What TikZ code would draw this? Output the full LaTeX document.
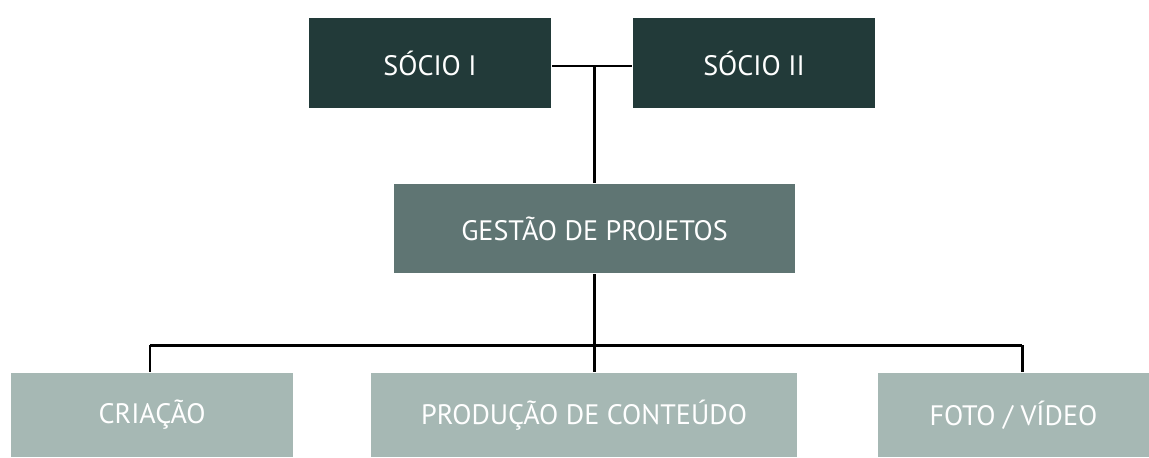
\documentclass[tikz,border=0pt]{standalone}
\usepackage{fontspec}
\setmainfont{PT Sans}
\usetikzlibrary{positioning}
\definecolor{socio}{RGB}{34,58,57}
\definecolor{gestao}{RGB}{95,117,115}
\definecolor{area}{RGB}{166,184,180}

\begin{document}
\begin{tikzpicture}[x=0.02cm, y=-0.02cm, line width=1.7pt,
  box/.style={inner sep=0pt, text=white, font=\fontsize{16}{18}\selectfont},
  sociobox/.style={box, fill=socio, minimum width=4.84cm, minimum height=1.8cm},
  areabox/.style={box, fill=area, minimum height=1.68cm}]
\useasboundingbox (0,0) rectangle (1149,457);
\node (S1) [sociobox] at (430,63) {SÓCIO I};
\node (S2) [sociobox] at (754,63) {SÓCIO II};
\node (G) [box, fill=gestao, minimum width=8.02cm, minimum height=1.78cm] at (594.5,228.5) {GESTÃO DE PROJETOS};
\node (C) [areabox, minimum width=5.64cm] at (152,415) {CRIAÇÃO};
\node (P) [areabox, minimum width=8.52cm] at (584,415) {PRODUÇÃO DE CONTEÚDO};
\node (F) [areabox, minimum width=5.42cm] at (1013.5,415) {FOTO / VÍDEO};
% ligacoes
\coordinate (jT) at (594,66);
\coordinate (jB) at (594,345);
\coordinate (jL) at (150,345);
\coordinate (jR) at (1022,345);
\draw (S1.east |- jT) -- (S2.west |- jT);
\draw (jT) -- (G.north -| jT);
\draw (G.south -| jB) -- (jB);
\draw (jL) -- (jR);
\draw (jL) -- (C.north -| jL);
\draw (jB) -- (P.north -| jB);
\draw (jR) -- (F.north -| jR);
\end{tikzpicture}
\end{document}
